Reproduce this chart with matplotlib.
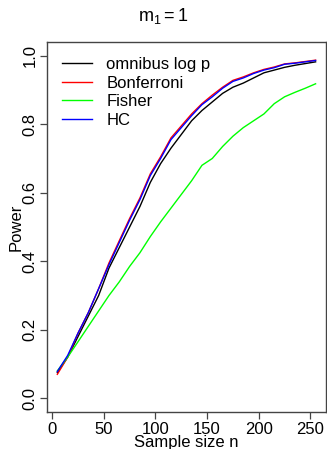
import matplotlib
matplotlib.use("Agg")
import matplotlib.pyplot as plt
import numpy as np

plt.rcParams["font.family"] = ["Liberation Sans", "DejaVu Sans"]
plt.rcParams["mathtext.fontset"] = "custom"
plt.rcParams["mathtext.rm"] = "Liberation Sans"
plt.rcParams["mathtext.it"] = "Liberation Sans"

n = [5, 15, 25, 35, 45, 55, 65, 75, 85, 95, 105, 115, 125,
     135, 145, 155, 165, 175, 185, 195, 205, 215, 225, 235, 245, 255]

omnibus = [0.075, 0.12, 0.18, 0.24, 0.30, 0.38, 0.44, 0.50, 0.56, 0.63, 0.685, 0.73, 0.77,
           0.81, 0.84, 0.865, 0.89, 0.908, 0.92, 0.935, 0.95, 0.958, 0.966, 0.972, 0.977, 0.982]
bonferroni = [0.07, 0.12, 0.19, 0.25, 0.32, 0.395, 0.46, 0.525, 0.585, 0.655, 0.705, 0.76, 0.795,
              0.83, 0.86, 0.885, 0.908, 0.928, 0.938, 0.95, 0.96, 0.967, 0.976, 0.979, 0.983, 0.987]
fisher = [0.08, 0.12, 0.165, 0.21, 0.255, 0.30, 0.34, 0.385, 0.425, 0.472, 0.515, 0.555, 0.595,
          0.635, 0.68, 0.70, 0.735, 0.765, 0.79, 0.81, 0.83, 0.86, 0.88, 0.893, 0.905, 0.918]
hc = [0.078, 0.125, 0.19, 0.25, 0.32, 0.39, 0.455, 0.52, 0.58, 0.65, 0.70, 0.755, 0.79,
      0.825, 0.857, 0.88, 0.905, 0.925, 0.935, 0.948, 0.958, 0.965, 0.975, 0.978, 0.982, 0.986]

series = [
    ("omnibus log p", omnibus, "black"),
    ("Bonferroni", bonferroni, "#ff0000"),
    ("Fisher", fisher, "#00ff00"),
    ("HC", hc, "#0000ff"),
]

fs = 12

fig = plt.figure(figsize=(3.27, 4.49), dpi=100)
ax = fig.add_axes([0.1437, 0.0824, 0.853, 0.8241])

for label, vals, col in series:
    ax.plot(n, vals, color=col, lw=1.0, label=label)

ax.set_xlim(-5, 265)
ax.set_ylim(-0.04, 1.04)
ax.set_xticks([0, 50, 100, 150, 200, 250])
ax.set_yticks([0.0, 0.2, 0.4, 0.6, 0.8, 1.0])
ax.set_yticklabels(["0.0", "0.2", "0.4", "0.6", "0.8", "1.0"], rotation=90, va="center")
ax.tick_params(direction="out", length=5, width=0.9, color="#444444", labelsize=fs, pad=2)
for s in ax.spines.values():
    s.set_color("#444444")
    s.set_linewidth(1.0)

ax.set_xlabel("Sample size n", fontsize=fs, labelpad=-1)
ax.set_ylabel("Power", fontsize=fs, labelpad=-1)
fig.text(0.5, 1 - 16 / 449, r"$\mathrm{m_1 = 1}$", ha="center", va="center", fontsize=13)

ax.legend(loc="upper left", frameon=False, fontsize=fs, handlelength=1.8,
          handletextpad=0.85, labelspacing=0.22, borderaxespad=0.5,
          bbox_to_anchor=(0.0, 1.0))

fig.savefig("out.png", dpi=100)
